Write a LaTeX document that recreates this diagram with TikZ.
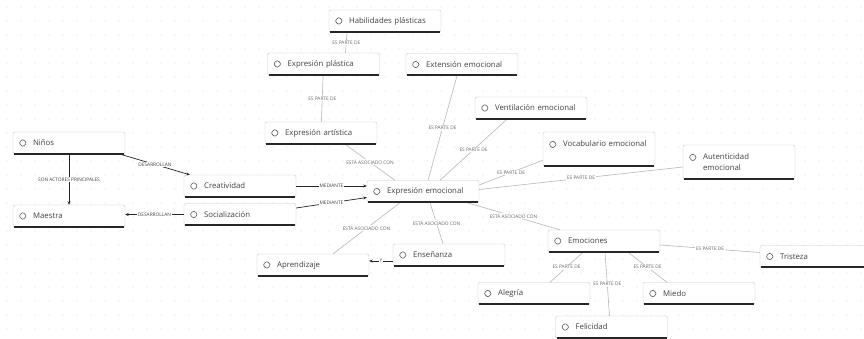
\documentclass[tikz,border=0pt]{standalone}
\usepackage{fontspec}
\setmainfont{Open Sans}
\usetikzlibrary{arrows.meta}
\newcommand{\dicon}{\tikz[baseline=-2.5pt]\draw[black!65,line width=0.6pt,line join=miter] (0pt,0pt)--(4pt,4pt)--(8pt,0pt)--(4pt,-4pt)--cycle;\hspace{6pt}}
\newcommand{\dgap}{\hspace*{14.6pt}}
\tikzset{
  cnode/.style={draw=black!22, fill=white, rounded corners=2pt, minimum width=112pt,
    text width=101pt, inner xsep=5.5pt, inner ysep=2pt, minimum height=22pt, align=left,
    font=\fontsize{7.8}{11}\selectfont, text=black!75},
  rel/.style={draw=black!28, line width=0.6pt},
  act/.style={draw=black!85, line width=0.7pt, -{Stealth[length=3.5pt,width=3pt]}},
  lab/.style={fill=white, inner sep=0.8pt, font=\fontsize{4.8}{5}\selectfont, text=black!60},
  alab/.style={fill=white, inner sep=0.8pt, font=\fontsize{4.8}{5}\selectfont, text=black!75}
}
\begin{document}
\begin{tikzpicture}[x=1pt,y=-1pt]
\useasboundingbox (0,0) rectangle (864,338);
\fill[white] (0,0) rectangle (864,338);
\foreach \gx in {7,21,...,864} \foreach \gy in {7,21,...,338} \fill[black!12] (\gx,\gy) circle (0.55pt);

\node[cnode] (hab) at (385,21) {\dicon Habilidades plásticas};
\node[cnode] (plas) at (323.5,64) {\dicon Expresión plástica};
\node[cnode] (ext) at (462,64.5) {\dicon Extensión emocional};
\node[cnode] (vent) at (531,108) {\dicon Ventilación emocional};
\node[cnode, minimum height=34pt] (voc) at (599,149) {\dicon Vocabulario emocional\\\mbox{}};
\node[cnode, minimum height=34pt] (aut) at (739,162) {\dicon Autenticidad\\\dgap emocional};
\node[cnode] (art) at (321,133) {\dicon Expresión artística};
\node[cnode] (ninos) at (69,143) {\dicon Niños};
\node[cnode] (maestra) at (69,216) {\dicon Maestra};
\node[cnode] (crea) at (240,186) {\dicon Creatividad};
\node[cnode] (soc) at (240,214.5) {\dicon Socialización};
\node[cnode] (emo) at (423,191.5) {\dicon Expresión emocional};
\node[cnode] (apr) at (313,265) {\dicon Aprendizaje};
\node[cnode] (ens) at (449,255) {\dicon Enseñanza};
\node[cnode] (emoc) at (604,241) {\dicon Emociones};
\node[cnode] (ale) at (534,293.5) {\dicon Alegría};
\node[cnode] (mie) at (699,293.5) {\dicon Miedo};
\node[cnode] (fel) at (611.5,327) {\dicon Felicidad};
\node[cnode] (tri) at (816,256.5) {\dicon Tristeza};

% ES PARTE DE / ESTA ASOCIADO CON (light)
\draw[rel] ([xshift=-38pt]hab.south) -- node[lab]{ES PARTE DE} ([xshift=22pt]plas.north);
\draw[rel] (plas) -- node[lab]{ES PARTE DE} (art);
\draw[rel] ([xshift=-5pt]ext.south) -- node[lab]{ES PARTE DE} ([xshift=5pt]emo.north);
\draw[rel] ([xshift=-24pt]vent.south) -- node[lab]{ES PARTE DE} ([xshift=17pt]emo.north);
\draw[rel] ([yshift=6pt]voc.south west) -- node[lab]{ES PARTE DE} ([yshift=6.5pt]emo.east);
\draw[rel] ([yshift=-5pt]aut.west) -- node[lab]{ES PARTE DE} ([yshift=2pt]emo.east);
\draw[rel] ([xshift=24pt]art.south) -- node[lab]{ESTÁ ASOCIADO CON} ([xshift=-28pt]emo.north);
\draw[rel] ([xshift=-23pt]emo.south) -- node[lab]{ESTÁ ASOCIADO CON} ([xshift=20pt]apr.north);
\draw[rel] ([xshift=7pt]emo.south) -- node[lab]{ESTÁ ASOCIADO CON} ([xshift=-6pt]ens.north);
\draw[rel] ([xshift=-12pt]emo.south east) -- node[lab]{ESTÁ ASOCIADO CON} ([xshift=12pt]emoc.north west);
\draw[rel] ([xshift=-21pt]emoc.south) -- node[lab]{ES PARTE DE} ([xshift=16pt]ale.north);
\draw[rel] ([xshift=1pt]emoc.south) -- node[lab]{ES PARTE DE} ([xshift=-2pt]fel.north);
\draw[rel] ([xshift=24pt]emoc.south) -- node[lab]{ES PARTE DE} ([xshift=-32pt]mie.north);
\draw[rel] ([yshift=4pt]tri.west) -- node[lab]{ES PARTE DE} ([yshift=-4pt]emoc.east);

% dark arrows
\draw[act] (crea.east) -- node[alab]{MEDIANTE} (crea.east -| emo.west);
\draw[act] ([yshift=6.5pt]soc.east) -- node[alab]{MEDIANTE} ([yshift=-6pt]emo.west);
\draw[act] ([xshift=-5pt]ninos.south east) -- node[alab]{DESARROLLAN} ([xshift=6pt]crea.north west);
\draw[act] (ninos) -- node[alab]{SON ACTORES PRINCIPALES} (maestra);
\draw[act] (soc.west) -- node[alab]{DESARROLLAN} (soc.west -| maestra.east);
\draw[act] ([yshift=-6pt]ens.west) -- node[alab]{Y} ([yshift=-6pt]ens.west -| apr.east);

% bottom bars
\foreach \n in {hab,plas,ext,vent,voc,aut,art,ninos,maestra,crea,soc,emo,apr,ens,emoc,ale,mie,fel,tri}
  \draw[black!85, line width=2pt] ([xshift=1.5pt,yshift=0.4pt]\n.south west) -- ([xshift=-1pt,yshift=0.4pt]\n.south east);
\end{tikzpicture}
\end{document}
